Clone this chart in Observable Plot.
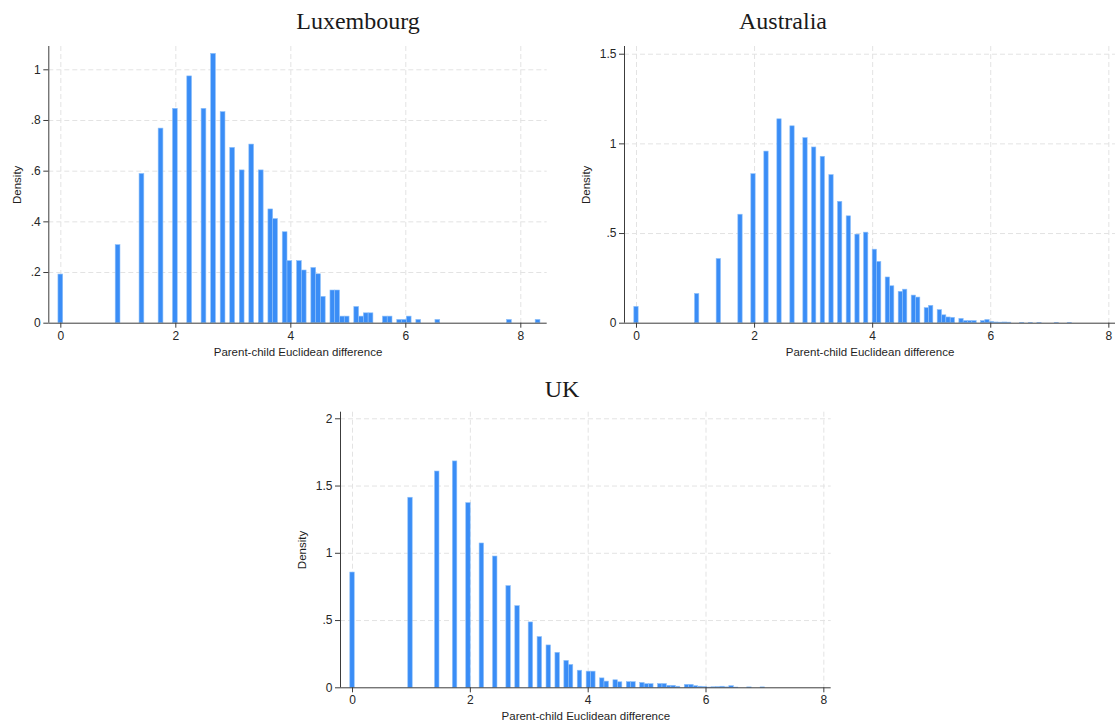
<!DOCTYPE html>
<html>
<head>
<meta charset="utf-8">
<script src="https://cdn.jsdelivr.net/npm/d3@7"></script>
<script src="https://cdn.jsdelivr.net/npm/@observablehq/plot@0.6"></script>
<style>
  body { margin: 0; background: #fff; }
  #chart { position: relative; width: 1115px; height: 725px; overflow: hidden; background: #fff; }
  .panel { position: absolute; }
  .title {
    position: absolute;
    font-family: "Liberation Serif", "Times New Roman", serif;
    font-size: 24px;
    line-height: 24px;
    color: #1a1a1a;
    transform: translateX(-50%);
    white-space: nowrap;
  }
</style>
</head>
<body>
<div id="chart"></div>
<script>
// Histogram bins (bin number along the x axis, bin centred on number × width) and densities
const luxBinWidth = 0.083;
const luxBins = [0, 12, 17, 21, 24, 27, 30, 32, 34, 36,
                 38, 40, 42, 44, 45, 47, 48, 50, 51, 53,
                 54, 55, 57, 58, 59, 60, 62, 63, 64, 65,
                 68, 69, 71, 72, 73, 75, 79, 94, 100];
const luxDensity = [0.192, 0.308, 0.589, 0.768, 0.846, 0.974, 0.846, 1.063, 0.833, 0.692,
                    0.603, 0.705, 0.603, 0.449, 0.411, 0.359, 0.245, 0.245, 0.208, 0.218,
                    0.193, 0.104, 0.129, 0.129, 0.026, 0.026, 0.064, 0.026, 0.039, 0.039,
                    0.026, 0.026, 0.013, 0.013, 0.026, 0.013, 0.013, 0.013, 0.013];

const ausBinWidth = 0.0734;
const ausBins = [0, 14, 19, 24, 27, 30, 33, 36, 39, 41,
                 43, 45, 47, 49, 51, 53, 55, 56, 58, 59,
                 61, 62, 64, 65, 67, 68, 70, 71, 72, 73,
                 75, 76, 77, 78, 80, 81, 82, 83, 84, 85,
                 86, 89, 91, 93, 97, 100];
const ausDensity = [0.091, 0.163, 0.358, 0.605, 0.831, 0.957, 1.137, 1.098, 1.032, 0.980,
                    0.928, 0.826, 0.677, 0.596, 0.494, 0.505, 0.410, 0.342, 0.255, 0.206,
                    0.175, 0.187, 0.154, 0.143, 0.084, 0.097, 0.073, 0.044, 0.032, 0.030,
                    0.024, 0.012, 0.012, 0.012, 0.012, 0.018, 0.007, 0.004, 0.003, 0.004,
                    0.003, 0.002, 0.002, 0.002, 0.002, 0.002];

const ukBinWidth = 0.0757;
const ukBins = [0, 13, 19, 23, 26, 29, 32, 35, 37, 40,
                42, 44, 46, 48, 49, 51, 53, 54, 56, 57,
                59, 60, 62, 63, 65, 66, 67, 69, 70, 71,
                72, 73, 75, 76, 77, 78, 79, 80, 81, 82,
                83, 84, 85, 86, 89, 92];
const ukDensity = [0.857, 1.413, 1.608, 1.683, 1.373, 1.073, 0.976, 0.756, 0.607, 0.486,
                   0.377, 0.315, 0.260, 0.200, 0.170, 0.127, 0.120, 0.120, 0.070, 0.046,
                   0.056, 0.041, 0.042, 0.042, 0.036, 0.027, 0.027, 0.028, 0.028, 0.015,
                   0.015, 0.008, 0.022, 0.022, 0.012, 0.008, 0.006, 0.002, 0.004, 0.005,
                   0.008, 0.003, 0.012, 0.002, 0.003, 0.003];

// Axis ticks
const xTicks = [0, 2, 4, 6, 8];
const luxYTicks = [0, 0.2, 0.4, 0.6, 0.8, 1];
const ausYTicks = [0, 0.5, 1, 1.5];
const ukYTicks = [0, 0.5, 1, 1.5, 2];

const xLabel = "Parent-child Euclidean difference";
const yLabel = "Density";

// Stata-style tick labels: ".2" rather than "0.2"
const stataFormat = d => (d === 0 ? "0" : String(d).replace(/^0\./, "."));

const chart = document.getElementById("chart");

function panel(cfg) {
  const rows = cfg.bins.map((k, i) => ({
    x1: (k - 0.5) * cfg.binWidth,
    x2: (k + 0.5) * cfg.binWidth,
    density: cfg.density[i]
  }));
  const grid = {stroke: "#e3e3e3", strokeOpacity: 1, strokeWidth: 1, strokeDasharray: "5,3"};
  const svg = Plot.plot({
    width: cfg.width,
    height: cfg.height,
    marginLeft: cfg.margin[3],
    marginRight: cfg.margin[1],
    marginTop: cfg.margin[0],
    marginBottom: cfg.margin[2],
    style: {fontFamily: "'Liberation Sans', Arial, sans-serif", fontSize: "12px", color: "#262626", background: "transparent"},
    x: {domain: cfg.xDomain},
    y: {domain: cfg.yDomain},
    marks: [
      Plot.gridY(cfg.yTicks.filter(d => d > 0), grid),
      Plot.gridX(xTicks, grid),
      Plot.rectY(rows, {x1: "x1", x2: "x2", y: "density", fill: "#3a8df6", stroke: "#8fc1fa", strokeWidth: 0.6}),
      Plot.ruleX([cfg.xDomain[0]], {stroke: "#3c3c3c", strokeWidth: 1}),
      Plot.ruleY([0], {stroke: "#3c3c3c", strokeWidth: 1}),
      Plot.axisY(cfg.yTicks, {tickSize: 5, tickPadding: 3, tickFormat: stataFormat, label: null, stroke: "#3c3c3c", fontSize: 12}),
      Plot.axisX(xTicks, {tickSize: 5, tickPadding: 3, tickFormat: d => String(d), label: null, stroke: "#3c3c3c", fontSize: 12}),
      Plot.text([yLabel], {frameAnchor: "left", rotate: -90, dx: cfg.yLabelDx, textAnchor: "middle", lineAnchor: "middle", fontSize: 11.5, fill: "#1f1f1f"}),
      Plot.text([xLabel], {frameAnchor: "bottom", dy: 29, textAnchor: "middle", lineAnchor: "middle", fontSize: 11.5, fill: "#1f1f1f"})
    ]
  });
  svg.classList.add("panel");
  svg.style.left = cfg.left + "px";
  svg.style.top = cfg.top + "px";
  chart.appendChild(svg);

  const t = document.createElement("div");
  t.className = "title";
  t.textContent = cfg.title;
  t.style.left = cfg.titleX + "px";
  t.style.top = cfg.titleTop + "px";
  chart.appendChild(t);
}

panel({
  title: "Luxembourg", titleX: 358, titleTop: 9,
  bins: luxBins, density: luxDensity, binWidth: luxBinWidth,
  xDomain: [-0.209, 8.459], yDomain: [0, 1.092], yTicks: luxYTicks,
  left: 0, top: 0, width: 560, height: 365,
  margin: [46, 13.3, 42.3, 48.3], yLabelDx: -31.5
});

panel({
  title: "Australia", titleX: 783, titleTop: 9,
  bins: ausBins, density: ausDensity, binWidth: ausBinWidth,
  xDomain: [-0.203, 8.113], yDomain: [0, 1.543], yTicks: ausYTicks,
  left: 560, top: 0, width: 555, height: 365,
  margin: [46, 0, 42.3, 64], yLabelDx: -38
});

panel({
  title: "UK", titleX: 562, titleTop: 377,
  bins: ukBins, density: ukDensity, binWidth: ukBinWidth,
  xDomain: [-0.204, 8.125], yDomain: [0, 2.049], yTicks: ukYTicks,
  left: 280, top: 370, width: 560, height: 355,
  margin: [41.7, 9.3, 37.7, 60], yLabelDx: -38.3
});
</script>
</body>
</html>
